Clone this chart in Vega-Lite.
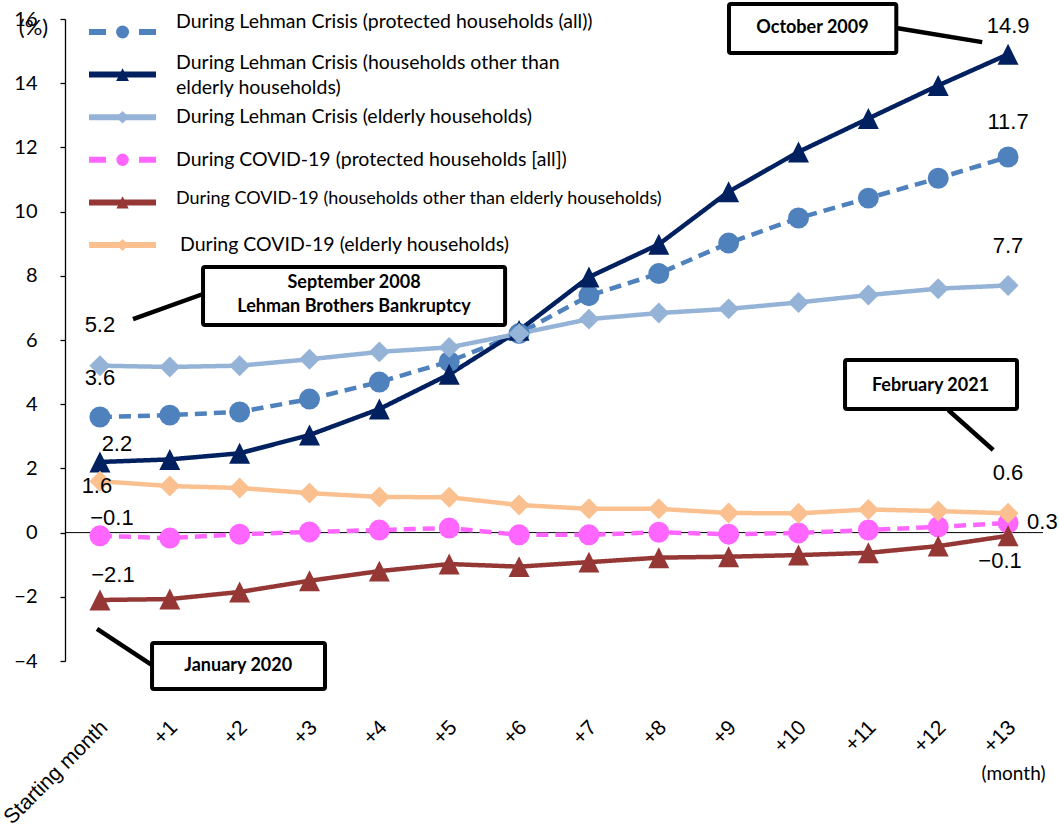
{
  "$schema": "https://vega.github.io/schema/vega-lite/v6.json",
  "width": 978,
  "height": 642,
  "autosize": "none",
  "padding": {"left": 65, "top": 19, "right": 16, "bottom": 170},
  "background": "white",
  "config": {
    "view": {"stroke": null},
    "text": {"font": "Liberation Sans", "fontSize": 22, "color": "black", "baseline": "middle"}
  },
  "datasets": {
    "rates": [
      {"m": 0, "la": 3.6, "lo": 2.2, "le": 5.2, "ca": -0.1, "co": -2.1, "ce": 1.6},
      {"m": 1, "la": 3.66, "lo": 2.28, "le": 5.16, "ca": -0.17, "co": -2.07, "ce": 1.45},
      {"m": 2, "la": 3.76, "lo": 2.47, "le": 5.2, "ca": -0.05, "co": -1.85, "ce": 1.39},
      {"m": 3, "la": 4.16, "lo": 3.04, "le": 5.4, "ca": 0.02, "co": -1.5, "ce": 1.23},
      {"m": 4, "la": 4.69, "lo": 3.85, "le": 5.63, "ca": 0.08, "co": -1.2, "ce": 1.11},
      {"m": 5, "la": 5.33, "lo": 4.93, "le": 5.77, "ca": 0.14, "co": -0.98, "ce": 1.1},
      {"m": 6, "la": 6.2, "lo": 6.3, "le": 6.2, "ca": -0.07, "co": -1.06, "ce": 0.86},
      {"m": 7, "la": 7.38, "lo": 7.96, "le": 6.65, "ca": -0.07, "co": -0.92, "ce": 0.74},
      {"m": 8, "la": 8.07, "lo": 8.98, "le": 6.84, "ca": 0.01, "co": -0.78, "ce": 0.74},
      {"m": 9, "la": 9.02, "lo": 10.62, "le": 6.97, "ca": -0.05, "co": -0.75, "ce": 0.61},
      {"m": 10, "la": 9.8, "lo": 11.86, "le": 7.17, "ca": -0.01, "co": -0.7, "ce": 0.6},
      {"m": 11, "la": 10.42, "lo": 12.9, "le": 7.4, "ca": 0.08, "co": -0.63, "ce": 0.72},
      {"m": 12, "la": 11.04, "lo": 13.93, "le": 7.6, "ca": 0.18, "co": -0.42, "ce": 0.67},
      {"m": 13, "la": 11.7, "lo": 14.9, "le": 7.7, "ca": 0.3, "co": -0.1, "ce": 0.6}
    ],
    "keys": [
      {"s": "la", "name": "During Lehman Crisis (protected households (all))"},
      {"s": "lo", "name": "During Lehman Crisis (households other than\nelderly households)"},
      {"s": "le", "name": "During Lehman Crisis (elderly households)"},
      {"s": "ca", "name": "During COVID-19 (protected households [all])"},
      {"s": "co", "name": "During COVID-19 (households other than elderly households)"},
      {"s": "ce", "name": "During COVID-19 (elderly households)"}
    ]
  },
  "resolve": {"scale": {"y": "independent", "strokeDash": "independent", "size": "independent"}},
  "layer": [
    {
      "layer": [
        {
          "data": {"values": [{}]},
          "mark": {"type": "rule", "color": "black", "strokeWidth": 1},
          "encoding": {"y": {"datum": 0, "type": "quantitative"}}
        },
        {
          "data": {"name": "rates"},
          "transform": [{"fold": ["la", "lo", "le", "ca", "co", "ce"], "as": ["s", "v"]}],
          "layer": [
            {
              "mark": {"type": "line", "strokeWidth": 4.5, "strokeJoin": "round"},
              "encoding": {
                "x": {
                  "field": "m", "type": "quantitative",
                  "scale": {"domain": [-0.5, 13.5], "nice": false, "zero": false},
                  "axis": {
                    "values": [0, 1, 2, 3, 4, 5, 6, 7, 8, 9, 10, 11, 12, 13],
                    "labelExpr": "datum.value === 0 ? 'Starting month' : '+' + datum.value",
                    "domain": false, "ticks": false, "grid": false,
                    "labelAngle": -45, "labelAlign": "right", "labelBaseline": "middle",
                    "labelPadding": 63, "labelOffset": 4, "labelFlush": false,
                    "labelOverlap": false, "labelBound": false,
                    "labelFont": "Liberation Sans", "labelFontSize": 21, "labelColor": "black",
                    "title": "(month)", "titleFont": "Lato", "titleFontSize": 19,
                    "titleFontWeight": "normal", "titleColor": "black",
                    "titleX": 948, "titleY": 112, "titleAlign": "center", "titleBaseline": "middle"
                  }
                },
                "y": {
                  "field": "v", "type": "quantitative",
                  "scale": {"domain": [-4, 16], "nice": false, "zero": false},
                  "axis": {
                    "values": [-4, -2, 0, 2, 4, 6, 8, 10, 12, 14, 16],
                    "grid": false, "domainColor": "black", "domainWidth": 1.3,
                    "tickColor": "black", "tickWidth": 1.3, "tickSize": 5,
                    "labelFont": "Lato", "labelFontSize": 20, "labelColor": "black", "labelPadding": 23,
                    "title": "(%)", "titleAngle": 0, "titleX": -32, "titleY": 8,
                    "titleAlign": "center", "titleBaseline": "middle",
                    "titleFont": "Lato", "titleFontSize": 22, "titleFontWeight": "normal", "titleColor": "black"
                  }
                },
                "color": {
                  "field": "s", "type": "nominal",
                  "scale": {"domain": ["la", "lo", "le", "ca", "co", "ce"],
                            "range": ["#4F81BD", "#002060", "#95B3D7", "#FF66FF", "#953735", "#FAC090"]},
                  "legend": null
                },
                "strokeDash": {
                  "field": "s", "type": "nominal",
                  "scale": {"domain": ["la", "lo", "le", "ca", "co", "ce"],
                            "range": [[12, 7], [1, 0], [1, 0], [12, 7], [1, 0], [1, 0]]},
                  "legend": null
                }
              }
            },
            {
              "mark": {"type": "point", "filled": true, "opacity": 1, "size": 440, "strokeWidth": 0},
              "encoding": {
                "x": {"field": "m", "type": "quantitative"},
                "y": {"field": "v", "type": "quantitative"},
                "color": {"field": "s", "type": "nominal", "legend": null},
                "shape": {
                  "field": "s", "type": "nominal",
                  "scale": {"domain": ["la", "lo", "le", "ca", "co", "ce"],
                            "range": ["circle", "M0,-1L1,1L-1,1Z", "diamond", "circle", "M0,-1L1,1L-1,1Z", "diamond"]},
                  "legend": null
                }
              }
            },
            {
              "transform": [{"filter": "datum.s === 'lo' && datum.m === 13"}],
              "mark": {"type": "text", "dy": -28},
              "encoding": {"x": {"field": "m", "type": "quantitative"}, "y": {"field": "v", "type": "quantitative"}, "text": {"field": "v", "type": "quantitative", "format": ".1f"}}
            },
            {
              "transform": [{"filter": "datum.s === 'la' && datum.m === 13"}],
              "mark": {"type": "text", "dy": -35},
              "encoding": {"x": {"field": "m", "type": "quantitative"}, "y": {"field": "v", "type": "quantitative"}, "text": {"field": "v", "type": "quantitative", "format": ".1f"}}
            },
            {
              "transform": [{"filter": "datum.s === 'le' && datum.m === 13"}],
              "mark": {"type": "text", "dy": -39},
              "encoding": {"x": {"field": "m", "type": "quantitative"}, "y": {"field": "v", "type": "quantitative"}, "text": {"field": "v", "type": "quantitative", "format": ".1f"}}
            },
            {
              "transform": [{"filter": "datum.s === 'le' && datum.m === 0"}],
              "mark": {"type": "text", "dy": -41},
              "encoding": {"x": {"field": "m", "type": "quantitative"}, "y": {"field": "v", "type": "quantitative"}, "text": {"field": "v", "type": "quantitative", "format": ".1f"}}
            },
            {
              "transform": [{"filter": "datum.s === 'la' && datum.m === 0"}],
              "mark": {"type": "text", "dy": -39},
              "encoding": {"x": {"field": "m", "type": "quantitative"}, "y": {"field": "v", "type": "quantitative"}, "text": {"field": "v", "type": "quantitative", "format": ".1f"}}
            },
            {
              "transform": [{"filter": "datum.s === 'lo' && datum.m === 0"}],
              "mark": {"type": "text", "dx": 17, "dy": -18},
              "encoding": {"x": {"field": "m", "type": "quantitative"}, "y": {"field": "v", "type": "quantitative"}, "text": {"field": "v", "type": "quantitative", "format": ".1f"}}
            },
            {
              "transform": [{"filter": "datum.s === 'ce' && datum.m === 0"}],
              "mark": {"type": "text", "dx": -3, "dy": 5},
              "encoding": {"x": {"field": "m", "type": "quantitative"}, "y": {"field": "v", "type": "quantitative"}, "text": {"field": "v", "type": "quantitative", "format": ".1f"}}
            },
            {
              "transform": [{"filter": "datum.s === 'ca' && datum.m === 0"}],
              "mark": {"type": "text", "dx": 12, "dy": -18},
              "encoding": {"x": {"field": "m", "type": "quantitative"}, "y": {"field": "v", "type": "quantitative"}, "text": {"field": "v", "type": "quantitative", "format": ".1f"}}
            },
            {
              "transform": [{"filter": "datum.s === 'co' && datum.m === 0"}],
              "mark": {"type": "text", "dx": 13, "dy": -25},
              "encoding": {"x": {"field": "m", "type": "quantitative"}, "y": {"field": "v", "type": "quantitative"}, "text": {"field": "v", "type": "quantitative", "format": ".1f"}}
            },
            {
              "transform": [{"filter": "datum.s === 'ce' && datum.m === 13"}],
              "mark": {"type": "text", "dy": -40},
              "encoding": {"x": {"field": "m", "type": "quantitative"}, "y": {"field": "v", "type": "quantitative"}, "text": {"field": "v", "type": "quantitative", "format": ".1f"}}
            },
            {
              "transform": [{"filter": "datum.s === 'ca' && datum.m === 13"}],
              "mark": {"type": "text", "align": "left", "dx": 19, "dy": -1},
              "encoding": {"x": {"field": "m", "type": "quantitative"}, "y": {"field": "v", "type": "quantitative"}, "text": {"field": "v", "type": "quantitative", "format": ".1f"}}
            },
            {
              "transform": [{"filter": "datum.s === 'co' && datum.m === 13"}],
              "mark": {"type": "text", "dx": -8, "dy": 25},
              "encoding": {"x": {"field": "m", "type": "quantitative"}, "y": {"field": "v", "type": "quantitative"}, "text": {"field": "v", "type": "quantitative", "format": ".1f"}}
            }
          ]
        },
        {
          "data": {"values": [{}]},
          "mark": {"type": "rule", "color": "black", "strokeWidth": 4.5},
          "encoding": {"x": {"datum": 11.4, "type": "quantitative"}, "y": {"datum": 15.72, "type": "quantitative"}, "x2": {"datum": 12.63}, "y2": {"datum": 15.28}}
        },
        {
          "data": {"values": [{}]},
          "mark": {"type": "rule", "color": "black", "strokeWidth": 4.5},
          "encoding": {"x": {"datum": 0.474, "type": "quantitative"}, "y": {"datum": 6.654, "type": "quantitative"}, "x2": {"datum": 1.476}, "y2": {"datum": 7.433}}
        },
        {
          "data": {"values": [{}]},
          "mark": {"type": "rule", "color": "black", "strokeWidth": 4.5},
          "encoding": {"x": {"datum": 12.143, "type": "quantitative"}, "y": {"datum": 3.819, "type": "quantitative"}, "x2": {"datum": 12.787}, "y2": {"datum": 2.573}}
        },
        {
          "data": {"values": [{}]},
          "mark": {"type": "rule", "color": "black", "strokeWidth": 4.5},
          "encoding": {"x": {"datum": -0.042, "type": "quantitative"}, "y": {"datum": -3.0, "type": "quantitative"}, "x2": {"datum": 0.746}, "y2": {"datum": -4.125}}
        },
        {
          "data": {"values": [{}]},
          "mark": {"type": "rect", "fill": "white", "stroke": "black", "strokeWidth": 4, "cornerRadius": 2},
          "encoding": {"x": {"datum": 9.005, "type": "quantitative"}, "x2": {"datum": 11.4}, "y": {"datum": 16.47, "type": "quantitative"}, "y2": {"datum": 14.94}}
        },
        {
          "data": {"values": [{}]},
          "mark": {"type": "rect", "fill": "white", "stroke": "black", "strokeWidth": 4, "cornerRadius": 2},
          "encoding": {"x": {"datum": 1.476, "type": "quantitative"}, "x2": {"datum": 5.8}, "y": {"datum": 8.274, "type": "quantitative"}, "y2": {"datum": 6.467}}
        },
        {
          "data": {"values": [{}]},
          "mark": {"type": "rect", "fill": "white", "stroke": "black", "strokeWidth": 4, "cornerRadius": 2},
          "encoding": {"x": {"datum": 10.666, "type": "quantitative"}, "x2": {"datum": 13.128}, "y": {"datum": 5.377, "type": "quantitative"}, "y2": {"datum": 3.85}}
        },
        {
          "data": {"values": [{}]},
          "mark": {"type": "rect", "fill": "white", "stroke": "black", "strokeWidth": 4, "cornerRadius": 2},
          "encoding": {"x": {"datum": 0.746, "type": "quantitative"}, "x2": {"datum": 3.222}, "y": {"datum": -3.439, "type": "quantitative"}, "y2": {"datum": -4.872}}
        },
        {
          "data": {"values": [{}]},
          "mark": {"type": "text", "text": "October 2009", "font": "Lato", "fontSize": 18, "fontWeight": "bold", "align": "center"},
          "encoding": {"x": {"datum": 10.2, "type": "quantitative"}, "y": {"datum": 15.71, "type": "quantitative"}}
        },
        {
          "data": {"values": [{}]},
          "mark": {"type": "text", "text": ["September 2008", "Lehman Brothers Bankruptcy"], "font": "Lato", "fontSize": 18, "fontWeight": "bold", "align": "center", "lineHeight": 24},
          "encoding": {"x": {"datum": 3.637, "type": "quantitative"}, "y": {"datum": 7.776, "type": "quantitative"}}
        },
        {
          "data": {"values": [{}]},
          "mark": {"type": "text", "text": "February 2021", "font": "Lato", "fontSize": 18, "fontWeight": "bold", "align": "center"},
          "encoding": {"x": {"datum": 11.89, "type": "quantitative"}, "y": {"datum": 4.58, "type": "quantitative"}}
        },
        {
          "data": {"values": [{}]},
          "mark": {"type": "text", "text": "January 2020", "font": "Lato", "fontSize": 18, "fontWeight": "bold", "align": "center"},
          "encoding": {"x": {"datum": 1.98, "type": "quantitative"}, "y": {"datum": -4.17, "type": "quantitative"}}
        }
      ]
    },
    {
      "data": {"name": "keys"},
      "layer": [
        {
          "mark": {"type": "rule", "strokeWidth": 6},
          "encoding": {
            "x": {"datum": -0.156, "type": "quantitative"},
            "x2": {"datum": 0.803},
            "y": {"field": "s", "type": "nominal",
                  "scale": {"type": "point", "domain": ["la", "lo", "le", "ca", "co", "ce"], "range": [13, 226], "padding": 0},
                  "axis": null},
            "color": {"field": "s", "type": "nominal", "legend": null},
            "strokeDash": {
              "field": "s", "type": "nominal",
              "scale": {"domain": ["la", "lo", "le", "ca", "co", "ce"],
                        "range": [[17, 33], [1, 0], [1, 0], [17, 33], [1, 0], [1, 0]]},
              "legend": null
            }
          }
        },
        {
          "mark": {"type": "point", "filled": true, "opacity": 1, "strokeWidth": 0},
          "encoding": {
            "x": {"datum": 0.324, "type": "quantitative"},
            "y": {"field": "s", "type": "nominal"},
            "color": {"field": "s", "type": "nominal", "legend": null},
            "shape": {"field": "s", "type": "nominal", "legend": null},
            "size": {"field": "s", "type": "nominal",
                     "scale": {"domain": ["la", "lo", "le", "ca", "co", "ce"], "range": [169, 144, 90, 169, 144, 90]},
                     "legend": null}
          }
        },
        {
          "transform": [{"filter": "datum.s === 'la'"}],
          "mark": {"type": "text", "font": "Lato", "fontSize": 19.5, "align": "left", "dy": -10},
          "encoding": {
            "x": {"datum": 1.089, "type": "quantitative"},
            "y": {"field": "s", "type": "nominal"},
            "text": {"field": "name", "type": "nominal"}
          }
        },
        {
          "transform": [{"filter": "datum.s === 'lo'"}],
          "mark": {"type": "text", "font": "Lato", "fontSize": 19.5, "align": "left", "lineBreak": "\n", "lineHeight": 25, "dy": -12},
          "encoding": {
            "x": {"datum": 1.089, "type": "quantitative"},
            "y": {"field": "s", "type": "nominal"},
            "text": {"field": "name", "type": "nominal"}
          }
        },
        {
          "transform": [{"filter": "datum.s === 'le' || datum.s === 'ca'"}],
          "mark": {"type": "text", "font": "Lato", "fontSize": 19.5, "align": "left"},
          "encoding": {
            "x": {"datum": 1.089, "type": "quantitative"},
            "y": {"field": "s", "type": "nominal"},
            "text": {"field": "name", "type": "nominal"}
          }
        },
        {
          "transform": [{"filter": "datum.s === 'co'"}],
          "mark": {"type": "text", "font": "Lato", "fontSize": 18, "align": "left", "dy": -3},
          "encoding": {
            "x": {"datum": 1.089, "type": "quantitative"},
            "y": {"field": "s", "type": "nominal"},
            "text": {"field": "name", "type": "nominal"}
          }
        },
        {
          "transform": [{"filter": "datum.s === 'ce'"}],
          "mark": {"type": "text", "font": "Lato", "fontSize": 19.5, "align": "left", "dx": 4},
          "encoding": {
            "x": {"datum": 1.089, "type": "quantitative"},
            "y": {"field": "s", "type": "nominal"},
            "text": {"field": "name", "type": "nominal"}
          }
        }
      ]
    }
  ]
}
